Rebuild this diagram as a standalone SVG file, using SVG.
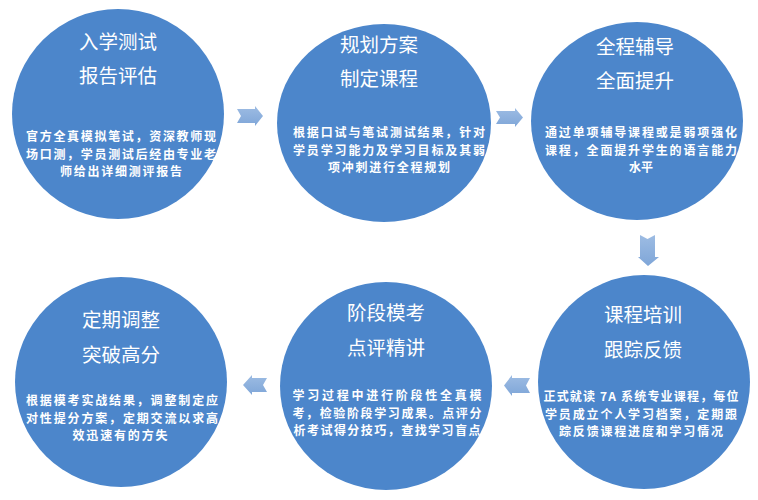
<svg xmlns="http://www.w3.org/2000/svg" width="758" height="500" viewBox="0 0 758 500">
<defs>
<linearGradient id="ag" x1="0" y1="0" x2="0" y2="1">
<stop offset="0" stop-color="#9dbce3"/>
<stop offset="1" stop-color="#7fa6d8"/>
</linearGradient>
<style>
.c{fill:#4c86cb}
.t{font-family:"Noto Sans CJK SC","Noto Sans",sans-serif;font-size:19.5px;fill:#ffffff;text-anchor:middle}
.b{font-family:"Noto Sans CJK SC","Noto Sans",sans-serif;font-size:12px;font-weight:bold;fill:#ffffff;text-anchor:middle}
.a{fill:url(#ag)}
</style>
</defs>
<rect width="758" height="500" fill="#ffffff"/>
<g id="node1">
<ellipse class="c" cx="118" cy="114" rx="106" ry="105"/>
<text class="t" x="118" y="49">入学测试</text>
<text class="t" x="118" y="83">报告评估</text>
<text class="b" x="121" y="141" textLength="190" lengthAdjust="spacing">官方全真模拟笔试，资深教师现</text>
<text class="b" x="121" y="159" textLength="190" lengthAdjust="spacing">场口测，学员测试后经由专业老</text>
<text class="b" x="121" y="176" textLength="122" lengthAdjust="spacing">师给出详细测评报告</text>
</g>
<g id="node2">
<ellipse class="c" cx="384" cy="123" rx="107" ry="99"/>
<text class="t" x="379" y="52">规划方案</text>
<text class="t" x="379" y="86">制定课程</text>
<text class="b" x="389" y="137" textLength="192" lengthAdjust="spacing">根据口试与笔试测试结果，针对</text>
<text class="b" x="389" y="155" textLength="192" lengthAdjust="spacing">学员学习能力及学习目标及其弱</text>
<text class="b" x="389" y="172" textLength="122" lengthAdjust="spacing">项冲刺进行全程规划</text>
</g>
<g id="node3">
<ellipse class="c" cx="637" cy="121" rx="106" ry="99"/>
<text class="t" x="635" y="54">全程辅导</text>
<text class="t" x="635" y="88">全面提升</text>
<text class="b" x="641" y="137" textLength="192" lengthAdjust="spacing">通过单项辅导课程或是弱项强化</text>
<text class="b" x="641" y="155" textLength="192" lengthAdjust="spacing">课程，全面提升学生的语言能力</text>
<text class="b" x="641" y="172">水平</text>
</g>
<g id="node4">
<ellipse class="c" cx="644" cy="382" rx="106" ry="107"/>
<text class="t" x="643" y="322">课程培训</text>
<text class="t" x="643" y="357">跟踪反馈</text>
<text class="b" x="641" y="401" textLength="195" lengthAdjust="spacing">正式就读 7A 系统专业课程，每位</text>
<text class="b" x="641" y="419" textLength="192" lengthAdjust="spacing">学员成立个人学习档案，定期跟</text>
<text class="b" x="641" y="436" textLength="164" lengthAdjust="spacing">踪反馈课程进度和学习情况</text>
</g>
<g id="node5">
<ellipse class="c" cx="386" cy="386" rx="106" ry="104"/>
<text class="t" x="386" y="320">阶段模考</text>
<text class="t" x="386" y="355">点评精讲</text>
<text class="b" x="387" y="400" textLength="189" lengthAdjust="spacing">学习过程中进行阶段性全真模</text>
<text class="b" x="387" y="418" textLength="189" lengthAdjust="spacing">考，检验阶段学习成果。点评分</text>
<text class="b" x="387" y="435" textLength="187" lengthAdjust="spacing">析考试得分技巧，查找学习盲点</text>
</g>
<g id="node6">
<ellipse class="c" cx="121" cy="382" rx="106" ry="105"/>
<text class="t" x="121" y="327">定期调整</text>
<text class="t" x="121" y="362">突破高分</text>
<text class="b" x="122" y="405" textLength="192" lengthAdjust="spacing">根据模考实战结果，调整制定应</text>
<text class="b" x="122" y="423" textLength="192" lengthAdjust="spacing">对性提分方案，定期交流以求高</text>
<text class="b" x="120" y="440" textLength="95" lengthAdjust="spacing">效迅速有的方失</text>
</g>
<g id="connectors">
<path class="a" d="M237,109 L255,109 L255,106 L263,116 L255,126 L255,123 L237,123 L241,116 Z"/>
<path class="a" d="M496,111 L515,111 L515,108 L523,117.5 L515,127 L515,124 L496,124 L500,117.5 Z"/>
<path class="a" d="M640,235 L647.5,239 L655,235 L655,257 L659,257 L648,266 L638,257 L640,257 Z"/>
<path class="a" d="M530,378 L512,378 L512,375 L504,385.5 L512,396 L512,393 L530,393 L526,385.5 Z"/>
<path class="a" d="M267,378 L252,378 L252,375 L243,385 L252,395 L252,392 L267,392 L263,385 Z"/>
</g>
</svg>
